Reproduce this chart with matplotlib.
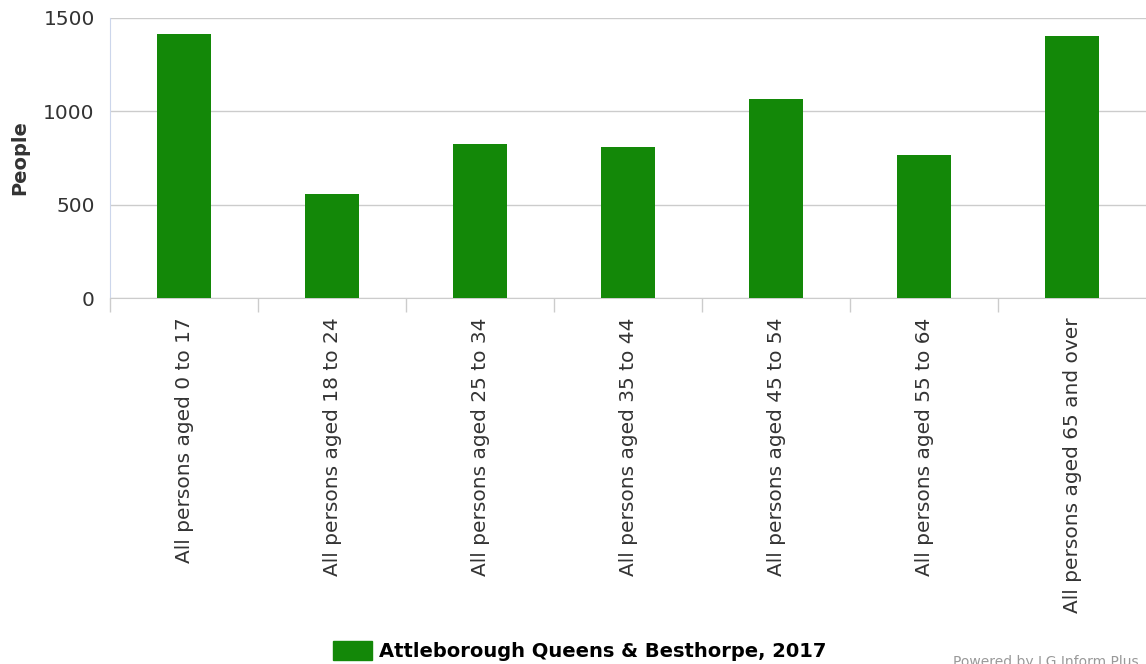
import matplotlib.pyplot as plt
import numpy as np
from matplotlib.patches import Patch

categories = [
    "All persons aged 0 to 17",
    "All persons aged 18 to 24",
    "All persons aged 25 to 34",
    "All persons aged 35 to 44",
    "All persons aged 45 to 54",
    "All persons aged 55 to 64",
    "All persons aged 65 and over",
]
people = [1414, 557, 825, 809, 1066, 766, 1404]
series_name = "Attleborough Queens & Besthorpe, 2017"

bar_color = "#138808"
text_color = "#333333"

fig = plt.figure(figsize=(11.46, 6.64), dpi=100)
ax = fig.add_axes([0.096, 0.551, 0.904, 0.422])

x = np.arange(len(categories))
ax.bar(x, people, width=0.36, color=bar_color, zorder=3)

ax.set_xlim(-0.5, len(categories) - 0.5)
ax.set_ylim(0, 1500)
ax.set_yticks([0, 500, 1000, 1500])
ax.yaxis.grid(True, color="#cccccc", linewidth=1, zorder=0)
ax.tick_params(axis="y", length=0, labelsize=14.5, labelcolor=text_color, pad=11)

# category labels at centres, tick marks at boundaries
ax.set_xticks(x)
ax.set_xticklabels(categories, rotation=90, fontsize=14.5, color=text_color)
ax.tick_params(axis="x", which="major", length=0, pad=14)
ax.set_xticks(np.arange(len(categories)) - 0.5, minor=True)
ax.tick_params(axis="x", which="minor", length=10, color="#cccccc", width=1)

for side in ["top", "right"]:
    ax.spines[side].set_visible(False)
ax.spines["left"].set_color("#ccd6eb")
ax.spines["bottom"].set_color("#cccccc")

ax.set_ylabel("People", fontsize=14, fontweight="bold", color=text_color, labelpad=10)

fig.legend(handles=[Patch(color=bar_color, label=series_name)],
           loc="center", bbox_to_anchor=(0.506, 0.019), frameon=False,
           handlelength=2.0, handleheight=1.1, handletextpad=0.35,
           prop={"size": 14, "weight": "bold"})

fig.text(0.832, -0.008, "Powered by LG Inform Plus", fontsize=10, color="#999999",
         ha="left", va="bottom")

fig.savefig("out.png", dpi=100)
